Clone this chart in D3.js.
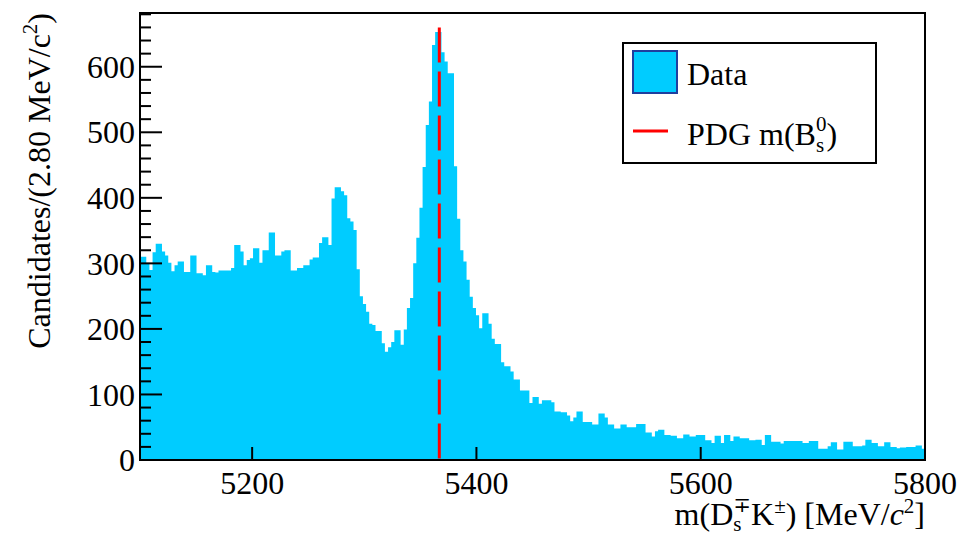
<!DOCTYPE html>
<html>
<head>
<meta charset="utf-8">
<script src="https://cdn.jsdelivr.net/npm/d3@7"></script>
<style>
  body { margin: 0; background: #fff; }
  svg text { font-family: "Liberation Serif", "DejaVu Serif", serif; fill: #000; }
</style>
</head>
<body>
<div id="chart"></div>
<script>
// histogram: m(Ds K), 250 bins of 2.8 MeV from 5100 to 5800
const massRange = [5100, 5800];
const binWidth = 2.8;
const counts = [
  310, 310, 300, 290, 317, 330, 330, 318, 312, 301,
  288, 297, 303, 303, 287, 287, 312, 312, 285, 285,
  282, 297, 297, 287, 286, 289, 289, 289, 289, 293,
  328, 328, 318, 297, 305, 308, 323, 323, 301, 320,
  320, 347, 347, 312, 312, 318, 320, 320, 289, 289,
  293, 293, 297, 297, 306, 309, 309, 331, 340, 340,
  328, 399, 416, 416, 410, 404, 369, 364, 351, 291,
  250, 238, 226, 208, 206, 197, 197, 178, 165, 172,
  180, 198, 198, 176, 199, 232, 247, 300, 339, 385,
  447, 511, 547, 633, 653, 653, 622, 608, 590, 590,
  448, 368, 320, 303, 275, 249, 232, 221, 201, 224,
  224, 208, 185, 177, 177, 149, 143, 143, 135, 123,
  123, 106, 106, 106, 87, 96, 96, 86, 91, 91,
  91, 88, 74, 74, 73, 73, 68, 59, 65, 74,
  74, 58, 58, 58, 54, 54, 71, 71, 65, 54,
  54, 48, 48, 54, 54, 50, 50, 50, 55, 55,
  55, 42, 42, 36, 44, 46, 46, 38, 38, 37,
  37, 33, 33, 39, 39, 36, 36, 38, 38, 38,
  30, 30, 26, 37, 37, 26, 38, 38, 29, 36,
  36, 33, 33, 33, 30, 30, 31, 31, 23, 38,
  38, 28, 28, 28, 25, 29, 29, 29, 29, 29,
  29, 26, 26, 29, 29, 29, 17, 17, 17, 21,
  27, 27, 16, 16, 28, 28, 28, 21, 21, 21,
  22, 31, 31, 26, 26, 21, 21, 27, 27, 20,
  20, 18, 19, 19, 20, 20, 20, 22, 22, 17
];
const xTicks = [5200, 5400, 5600, 5800];
const yMajor = [0, 100, 200, 300, 400, 500, 600];
const yMinor = d3.range(0, 681, 20);
const pdgMass = 5366.9;
const pdgLineTop = 660;
const yMax = 682;

const width = 961, height = 534;
const margin = { left: 140, right: 36, top: 13, bottom: 74 };
const fillColor = '#00ccff';

const svg = d3.select('#chart').append('svg')
  .attr('width', width)
  .attr('height', height);

const x = d3.scaleLinear().domain(massRange).range([margin.left, width - margin.right]);
const y = d3.scaleLinear().domain([0, yMax]).range([height - margin.bottom, margin.top]);

// bin edges -> step area
const bins = counts.map((c, i) => ({ lo: massRange[0] + i * binWidth, c: c }));
bins.push({ lo: massRange[1], c: counts[counts.length - 1] });

const area = d3.area()
  .curve(d3.curveStepAfter)
  .x(d => x(d.lo))
  .y0(y(0))
  .y1(d => y(d.c));

svg.append('path')
  .datum(bins)
  .attr('d', area)
  .attr('fill', fillColor);

// PDG mass line
svg.append('line')
  .attr('x1', x(pdgMass)).attr('x2', x(pdgMass))
  .attr('y1', y(pdgLineTop)).attr('y2', y(0))
  .attr('stroke', '#ff0000')
  .attr('stroke-width', 3)
  .attr('stroke-dasharray', '35,9');

// y ticks (inside)
const g = svg.append('g');
g.selectAll('.ymin').data(yMinor).enter().append('line')
  .attr('x1', margin.left).attr('x2', d => margin.left + (d % 100 === 0 ? 22 : 11))
  .attr('y1', d => y(d)).attr('y2', d => y(d))
  .attr('stroke', '#000').attr('stroke-width', 2);

g.selectAll('.ylab').data(yMajor).enter().append('text')
  .attr('x', margin.left - 5)
  .attr('y', d => y(d))
  .attr('dy', '0.35em')
  .attr('text-anchor', 'end')
  .attr('font-size', 32)
  .text(d => d);

// x ticks
g.selectAll('.xt').data(xTicks).enter().append('line')
  .attr('x1', d => x(d)).attr('x2', d => x(d))
  .attr('y1', y(0)).attr('y2', y(0) - 13)
  .attr('stroke', '#000').attr('stroke-width', 2);

g.selectAll('.xlab').data(xTicks).enter().append('text')
  .attr('x', d => x(d))
  .attr('y', 494)
  .attr('text-anchor', 'middle')
  .attr('font-size', 32)
  .text(d => d);

// frame
svg.append('rect')
  .attr('x', margin.left).attr('y', margin.top)
  .attr('width', width - margin.right - margin.left)
  .attr('height', y(0) - margin.top)
  .attr('fill', 'none')
  .attr('stroke', '#000')
  .attr('stroke-width', 2);

// x title
const xt = svg.append('text')
  .attr('x', width - margin.right)
  .attr('y', 525)
  .attr('text-anchor', 'end')
  .attr('font-size', 32);
xt.append('tspan').text('m(D');
xt.append('tspan').attr('font-size', 21).attr('dy', 6).text('s');
xt.append('tspan').attr('font-size', 21).attr('dx', -8).attr('dy', -19).text('\u2213');
xt.append('tspan').attr('dy', 13).text('K');
xt.append('tspan').attr('font-size', 21).attr('dy', -12).text('\u00b1');
xt.append('tspan').attr('dy', 12).text(') [MeV/');
xt.append('tspan').attr('font-style', 'italic').text('c');
xt.append('tspan').attr('font-size', 21).attr('dy', -12).text('2');
xt.append('tspan').attr('dy', 12).text(']');

// y title
const yt = svg.append('text')
  .attr('transform', 'translate(50,13) rotate(-90)')
  .attr('text-anchor', 'end')
  .attr('font-size', 32);
yt.append('tspan').text('Candidates/(2.80 MeV/c');
yt.append('tspan').attr('font-size', 21).attr('dy', -13).text('2');
yt.append('tspan').attr('dy', 13).text(')');

// legend
const leg = svg.append('g');
leg.append('rect')
  .attr('x', 623).attr('y', 43).attr('width', 253).attr('height', 120)
  .attr('fill', '#fff').attr('stroke', '#000').attr('stroke-width', 2);
leg.append('rect')
  .attr('x', 633).attr('y', 51).attr('width', 44).attr('height', 42)
  .attr('fill', fillColor).attr('stroke', '#1f3f9f').attr('stroke-width', 2);
leg.append('text')
  .attr('x', 687).attr('y', 85).attr('font-size', 32).text('Data');
leg.append('line')
  .attr('x1', 633).attr('x2', 668).attr('y1', 131).attr('y2', 131)
  .attr('stroke', '#ff0000').attr('stroke-width', 3);
const lt = leg.append('text')
  .attr('x', 687).attr('y', 145).attr('font-size', 32);
lt.append('tspan').text('PDG m(B');
lt.append('tspan').attr('font-size', 21).attr('dy', 7).text('s');
lt.append('tspan').attr('font-size', 21).attr('dx', -8).attr('dy', -21).text('0');
lt.append('tspan').attr('dy', 14).text(')');
</script>
</body>
</html>
